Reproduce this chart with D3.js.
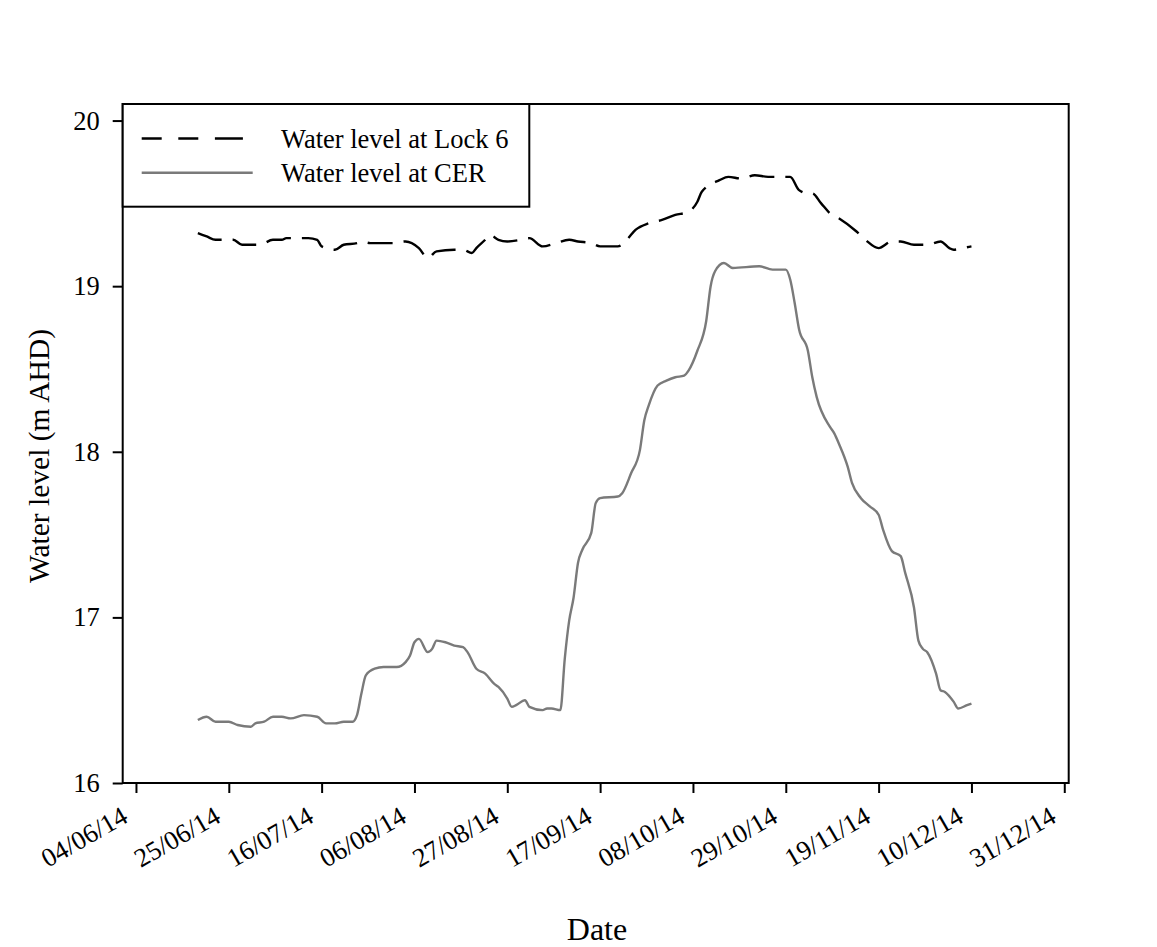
<!DOCTYPE html>
<html>
<head>
<meta charset="utf-8">
<script src="https://cdn.jsdelivr.net/npm/d3@7"></script>
<style>
  body { margin: 0; background: #fff; }
  svg { display: block; font-family: "Liberation Serif", "Times New Roman", serif; }
</style>
</head>
<body>
<svg id="chart" width="1157" height="947"></svg>
<script>
// water level at CER (m AHD)
const cerDates = ["2014-06-18", "2014-06-20", "2014-06-22", "2014-06-25", "2014-06-27", "2014-06-30",
  "2014-07-01", "2014-07-03", "2014-07-05", "2014-07-07", "2014-07-09", "2014-07-12", "2014-07-15",
  "2014-07-17", "2014-07-19", "2014-07-21", "2014-07-23", "2014-07-24", "2014-07-25", "2014-07-26",
  "2014-07-28", "2014-07-30", "2014-08-02", "2014-08-04", "2014-08-05", "2014-08-06", "2014-08-07",
  "2014-08-09", "2014-08-10", "2014-08-11", "2014-08-13", "2014-08-15", "2014-08-17", "2014-08-18",
  "2014-08-20", "2014-08-22", "2014-08-24", "2014-08-25", "2014-08-27", "2014-08-28", "2014-08-29",
  "2014-08-31", "2014-09-01", "2014-09-04", "2014-09-05", "2014-09-06", "2014-09-08", "2014-09-09",
  "2014-09-10", "2014-09-11", "2014-09-12", "2014-09-13", "2014-09-15", "2014-09-16", "2014-09-17",
  "2014-09-21", "2014-09-22", "2014-09-24", "2014-09-26", "2014-09-27", "2014-09-28", "2014-09-30",
  "2014-10-02", "2014-10-04", "2014-10-06", "2014-10-07", "2014-10-09", "2014-10-11", "2014-10-12",
  "2014-10-13", "2014-10-15", "2014-10-17", "2014-10-23", "2014-10-26", "2014-10-29", "2014-10-30",
  "2014-10-31", "2014-11-01", "2014-11-03", "2014-11-04", "2014-11-05", "2014-11-08", "2014-11-09",
  "2014-11-10", "2014-11-12", "2014-11-13", "2014-11-15", "2014-11-17", "2014-11-19", "2014-11-20",
  "2014-11-22", "2014-11-24", "2014-11-25", "2014-11-27", "2014-11-28", "2014-11-29", "2014-11-30",
  "2014-12-02", "2014-12-03", "2014-12-04", "2014-12-06", "2014-12-07", "2014-12-09", "2014-12-10"];
const cerLevels = [16.38, 16.40, 16.37, 16.37, 16.35, 16.34,
  16.36, 16.37, 16.40, 16.40, 16.39, 16.41, 16.40,
  16.36, 16.36, 16.37, 16.37, 16.41, 16.54, 16.65,
  16.69, 16.70, 16.70, 16.73, 16.77, 16.85, 16.87,
  16.79, 16.81, 16.86, 16.85, 16.83, 16.82, 16.79,
  16.69, 16.66, 16.60, 16.58, 16.51, 16.46, 16.47,
  16.50, 16.46, 16.44, 16.45, 16.45, 16.44, 16.75,
  16.98, 17.12, 17.33, 17.41, 17.51, 17.69, 17.72,
  17.73, 17.75, 17.87, 18.01, 18.19, 18.28, 18.40,
  18.43, 18.45, 18.46, 18.49, 18.61, 18.79, 19.00,
  19.09, 19.14, 19.11, 19.12, 19.10, 19.10, 19.04,
  18.90, 18.74, 18.61, 18.45, 18.33, 18.15, 18.11,
  18.05, 17.91, 17.81, 17.72, 17.67, 17.62, 17.53,
  17.40, 17.37, 17.27, 17.06, 16.86, 16.81, 16.79,
  16.66, 16.56, 16.55, 16.49, 16.45, 16.47, 16.48];

// water level at Lock 6 (m AHD)
const lockDates = ["2014-06-18", "2014-06-20", "2014-06-22", "2014-06-24", "2014-06-26", "2014-06-28",
  "2014-07-02", "2014-07-05", "2014-07-07", "2014-07-08", "2014-07-10", "2014-07-13", "2014-07-15",
  "2014-07-16", "2014-07-19", "2014-07-21", "2014-07-24", "2014-07-25", "2014-07-27", "2014-07-30",
  "2014-08-01", "2014-08-04", "2014-08-07", "2014-08-09", "2014-08-11", "2014-08-15", "2014-08-17",
  "2014-08-19", "2014-08-20", "2014-08-22", "2014-08-23", "2014-08-25", "2014-08-27", "2014-08-30",
  "2014-09-01", "2014-09-04", "2014-09-07", "2014-09-10", "2014-09-12", "2014-09-15", "2014-09-17",
  "2014-09-21", "2014-09-23", "2014-09-25", "2014-09-28", "2014-10-01", "2014-10-04", "2014-10-07",
  "2014-10-09", "2014-10-10", "2014-10-14", "2014-10-16", "2014-10-19", "2014-10-22", "2014-10-25",
  "2014-10-30", "2014-11-01", "2014-11-03", "2014-11-04", "2014-11-06", "2014-11-08", "2014-11-10",
  "2014-11-14", "2014-11-16", "2014-11-19", "2014-11-22", "2014-11-24", "2014-11-27", "2014-11-30",
  "2014-12-03", "2014-12-05", "2014-12-06", "2014-12-08", "2014-12-10"];
const lockLevels = [19.32, 19.30, 19.28, 19.28, 19.28, 19.25,
  19.25, 19.28, 19.28, 19.29, 19.29, 19.29, 19.28,
  19.24, 19.22, 19.25, 19.26, 19.27, 19.26, 19.26,
  19.26, 19.27, 19.23, 19.17, 19.21, 19.22, 19.22,
  19.20, 19.23, 19.28, 19.31, 19.28, 19.27, 19.28,
  19.29, 19.24, 19.26, 19.28, 19.27, 19.26, 19.24,
  19.24, 19.28, 19.34, 19.38, 19.40, 19.43, 19.45,
  19.51, 19.57, 19.64, 19.66, 19.65, 19.67, 19.66,
  19.66, 19.58, 19.56, 19.56, 19.50, 19.44, 19.41,
  19.33, 19.28, 19.23, 19.27, 19.27, 19.25, 19.25,
  19.27, 19.23, 19.22, 19.23, 19.24];

const xTickDates = ["2014-06-04", "2014-06-25", "2014-07-16", "2014-08-06", "2014-08-27", "2014-09-17",
  "2014-10-08", "2014-10-29", "2014-11-19", "2014-12-10", "2014-12-31"];
const yTicks = [16, 17, 18, 19, 20];

const legendLabels = ["Water level at Lock 6", "Water level at CER"];

const parseDate = d3.timeParse("%Y-%m-%d");
const fmt = d3.timeFormat("%d/%m/%y");
const serif = "'Liberation Serif', 'Times New Roman', serif";

const svg = d3.select("#chart");
const plotLeft = 122.7, plotRight = 1068.7, plotTop = 104, plotBottom = 783;

const x = d3.scaleTime()
  .domain([parseDate("2014-06-01"), parseDate("2015-01-01")])
  .range([plotLeft, plotRight]);
const y = d3.scaleLinear()
  .domain([16, 20.1])
  .range([plotBottom, plotTop]);

const cer = cerDates.map((d, i) => ({ date: parseDate(d), value: cerLevels[i] }));
const lock = lockDates.map((d, i) => ({ date: parseDate(d), value: lockLevels[i] }));

const line = d3.line()
  .x((d) => x(d.date))
  .y((d) => y(d.value))
  .curve(d3.curveMonotoneX);

// frame
svg.append("rect")
  .attr("x", plotLeft).attr("y", plotTop)
  .attr("width", plotRight - plotLeft).attr("height", plotBottom - plotTop)
  .attr("fill", "none").attr("stroke", "#000").attr("stroke-width", 2);

// x axis
const xAxis = svg.append("g")
  .attr("transform", `translate(0,${plotBottom})`)
  .call(d3.axisBottom(x)
    .tickValues(xTickDates.map(parseDate))
    .tickSize(10)
    .tickSizeOuter(0)
    .tickFormat(fmt));
xAxis.attr("font-family", serif).attr("font-size", 26.5);
xAxis.select(".domain").remove();
xAxis.selectAll(".tick line").attr("stroke", "#000").attr("stroke-width", 2);
xAxis.selectAll(".tick text")
  .attr("fill", "#000")
  .attr("text-anchor", "end")
  .attr("x", 0).attr("y", 0).attr("dy", 0)
  .attr("transform", "translate(-7,38) rotate(-30)");

// y axis
const yAxis = svg.append("g")
  .attr("transform", `translate(${plotLeft},0)`)
  .call(d3.axisLeft(y)
    .tickValues(yTicks)
    .tickSize(10)
    .tickSizeOuter(0)
    .tickPadding(13)
    .tickFormat(d3.format("d")));
yAxis.attr("font-family", serif).attr("font-size", 26.5);
yAxis.select(".domain").remove();
yAxis.selectAll(".tick line").attr("stroke", "#000").attr("stroke-width", 2);
yAxis.selectAll(".tick text").attr("fill", "#000");

// series
svg.append("path")
  .datum(cer)
  .attr("d", line)
  .attr("fill", "none")
  .attr("stroke", "#7a7a7a")
  .attr("stroke-width", 2.4);

svg.append("path")
  .datum(lock)
  .attr("d", line)
  .attr("fill", "none")
  .attr("stroke", "#000")
  .attr("stroke-width", 2.4)
  .attr("stroke-dasharray", "25,11");

// legend
const legend = svg.append("g");
legend.append("rect")
  .attr("x", plotLeft).attr("y", plotTop)
  .attr("width", 529.3 - plotLeft).attr("height", 206.7 - plotTop)
  .attr("fill", "#fff").attr("stroke", "#000").attr("stroke-width", 2);
legend.append("line")
  .attr("x1", 141.7).attr("x2", 243.3).attr("y1", 138.5).attr("y2", 138.5)
  .attr("stroke", "#000").attr("stroke-width", 2.4)
  .attr("stroke-dasharray", "20,16.6,20,16.6,28");
legend.append("line")
  .attr("x1", 141.7).attr("x2", 252.7).attr("y1", 172.7).attr("y2", 172.7)
  .attr("stroke", "#7a7a7a").attr("stroke-width", 2.4);
legend.selectAll("text.lab")
  .data(legendLabels)
  .enter()
  .append("text")
  .attr("class", "lab")
  .attr("x", 281)
  .attr("y", (d, i) => 147.5 + i * 34.3)
  .attr("font-size", 26.5)
  .text((d) => d);

// axis titles
svg.append("text")
  .attr("transform", "translate(49,456) rotate(-90)")
  .attr("text-anchor", "middle")
  .attr("font-size", 29.5)
  .text("Water level (m AHD)");
svg.append("text")
  .attr("x", 597).attr("y", 940)
  .attr("text-anchor", "middle")
  .attr("font-size", 32)
  .text("Date");
</script>
</body>
</html>
